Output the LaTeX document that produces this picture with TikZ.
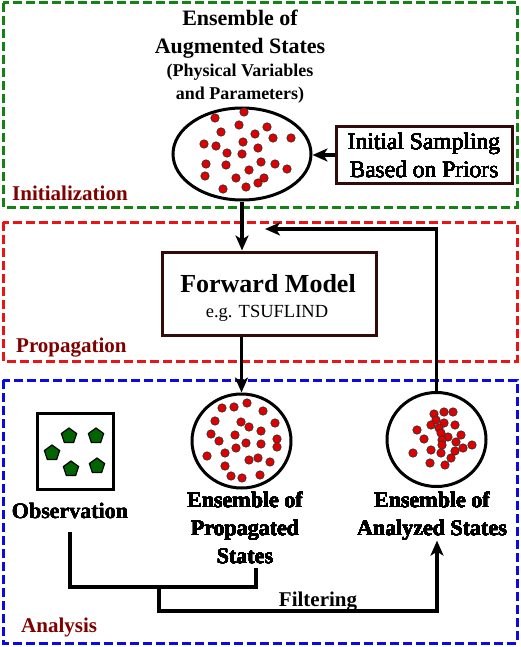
\documentclass[tikz,border=0pt]{standalone}
\usepackage{fontspec}
\setmainfont{Liberation Serif}
\usetikzlibrary{positioning, arrows.meta, shapes.geometric}
\definecolor{initgreen}{RGB}{20,130,20}
\definecolor{propred}{RGB}{235,20,20}
\definecolor{anablue}{RGB}{10,10,225}
\definecolor{stagered}{RGB}{128,0,0}
\definecolor{boxbrown}{RGB}{50,10,10}
\definecolor{dotred}{RGB}{225,0,0}
\definecolor{obsgreen}{RGB}{0,100,0}
\tikzstyle{line} = [draw, line width=3.3pt, -{Stealth[length=15pt,width=13pt,inset=4pt]}]
\tikzstyle{wire} = [draw, line width=3.3pt]
\tikzstyle{stage} = [draw, line width=3pt, dash pattern=on 9pt off 4pt]
\tikzstyle{stagename} = [anchor=base west, inner sep=0pt, text=stagered, font=\fontsize{21}{25}\selectfont\bfseries]
\tikzstyle{cloud} = [draw, ellipse, line width=3pt, inner sep=0pt]
\tikzstyle{block} = [draw=boxbrown, rectangle, line width=3pt, inner sep=0pt]
\tikzstyle{caption} = [anchor=north, inner sep=0pt, align=center, font=\fontsize{22}{28}\selectfont\bfseries]
\newcommand{\Member}[1]{\filldraw[fill=dotred, draw=black!80, line width=0.7pt] #1 circle (4.2pt);}
\newcommand{\Measure}[1]{\node[regular polygon, regular polygon sides=5, minimum size=16pt, inner sep=0pt, fill=obsgreen, draw=black, line width=1.2pt] at #1 {};}

\begin{document}
\begin{tikzpicture}[x=1pt,y=-1pt]
\useasboundingbox (0,0) rectangle (520,647);
\draw[stage,initgreen] (3,3) rectangle (517,207);
\draw[stage,propred] (3,222) rectangle (517,361);
\draw[stage,anablue] (3,380) rectangle (517,643);
\node[stagename] (initname) at (12,200) {Initialization};
\node[stagename] (propname) at (16,352) {Propagation};
\node[stagename] (ananame) at (21,632) {Analysis};

\node[caption] (augmlbl) at (240,10) {Ensemble of\\Augmented States};
\node[caption, font=\fontsize{18}{23}\selectfont\bfseries] (augmsub) at (240,64) {(Physical Variables\\and Parameters)};
\node[cloud, minimum width=138pt, minimum height=92pt] (augm) at (242,154) {};
\foreach \p in {(215,118),(244,112),(239,125),(267,127),(221,132),(255,134),(273,138),(291,138),(204,144),(216,146),(243,142),(258,148),(227,153),(242,154),(206,164),(226,165),(261,162),(275,164),(287,169),(249,170),(205,176),(236,178),(264,178),(258,183),(223,189),(246,187)}
  \Member{\p}
\node[block, minimum width=176pt, minimum height=56pt, align=center, font=\fontsize{23.5}{28}\selectfont] (init) at (424,155) {Initial Sampling\\Based on Priors};
\draw[line] (init.west) -- (init.west -| augm.east);

\node[block, minimum width=214pt, minimum height=83pt] (fwd) at (269,293.5) {};
\node[anchor=base, inner sep=0pt, font=\fontsize{26}{30}\selectfont\bfseries] (fwdname) at (268,292) {Forward Model};
\node[anchor=base, inner sep=0pt, font=\fontsize{18.5}{22}\selectfont] (fwdex) at (267,317) {e.g. TSUFLIND};
\draw[line] (augm.south) -- (augm.south |- fwd.north);

\node[draw, line width=3pt, minimum size=76pt, inner sep=0pt] (obs) at (75,451) {};
\foreach \p in {(69,436),(96,436),(52,453),(71,469),(97,466)}
  \Measure{\p}
\node[caption] (obslbl) at (70,503) {Observation};

\node[cloud, minimum width=99pt, minimum height=94pt] (prop) at (241.5,441) {};
\foreach \p in {(222,408),(234,407),(247,403),(263,411),(215,421),(241,422),(249,427),(275,423),(211,434),(235,435),(261,431),(219,441),(246,443),(261,444),(277,439),(277,447),(236,448),(225,453),(207,456),(258,458),(249,460),(270,462),(225,466),(231,476),(242,478),(260,475)}
  \Member{\p}
\node[caption] (proplbl) at (245,492) {Ensemble of\\Propagated\\States};
\draw[line] (prop.north |- fwd.south) -- (prop.north);

\node[cloud, minimum width=99pt, minimum height=94pt] (anal) at (436.5,439.5) {};
\foreach \p in {(434,414),(444,412),(453,412),(436,420),(431,425),(444,423),(455,425),(439,428),(417,430),(441,433),(461,435),(424,439),(448,437),(442,440),(456,442),(442,445),(472,445),(463,448),(431,450),(455,451),(413,453),(441,453),(451,458),(430,463),(445,465)}
  \Member{\p}
\node[caption] (anallbl) at (432,492) {Ensemble of\\Analyzed States};

\coordinate (fb) at (265,229);
\coordinate (split) at (159,587);
\coordinate (filtbase) at (437,611);
\draw[line] (anal.north) |- (fb);
\draw[wire] ([yshift=-13pt]obslbl.south) |- (split) -| ([xshift=11pt,yshift=-4pt]proplbl.south);
\draw[line] (split) |- (filtbase) -- ([xshift=5pt]anallbl.south);
\node[anchor=base, inner sep=0pt, font=\fontsize{21}{25}\selectfont\bfseries] (filtlbl) at (318,606) {Filtering};
\end{tikzpicture}
\end{document}
